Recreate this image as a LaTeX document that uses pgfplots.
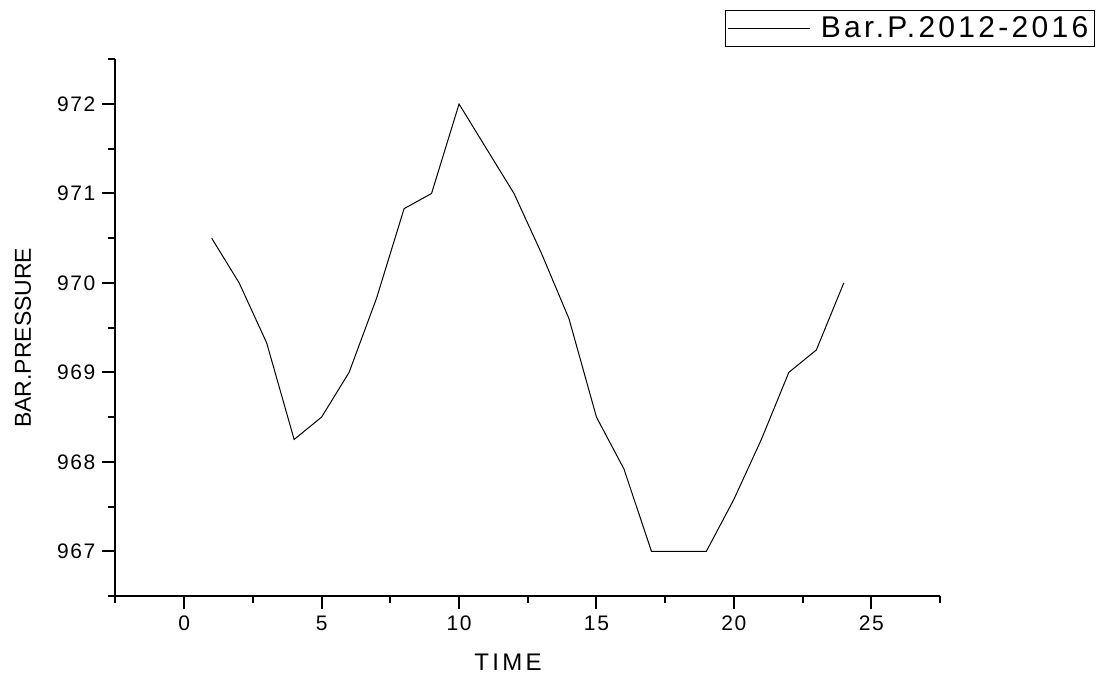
\documentclass[border=0pt]{standalone}
\usepackage{fontspec}
\setmainfont{Liberation Sans}
\newfontfamily\spaced[LetterSpace=14]{Liberation Sans}
\newfontfamily\legfont[LetterSpace=11]{Liberation Sans}
\newfontfamily\tickfont[LetterSpace=8]{Liberation Sans}
\usepackage{pgfplots}
\pgfplotsset{compat=1.18}
\begin{document}
\begin{tikzpicture}
\path (-57.75pt,-38.5pt) rectangle (491.75pt,298pt);
\begin{axis}[
  scale only axis, width=412.25pt, height=268.35pt,
  xmin=-2.5, xmax=27.5, ymin=966.5, ymax=972.5,
  axis lines=left,
  axis line style={line width=1pt,-},
  tick align=outside,
  major tick length=6.5pt, minor tick length=3.5pt,
  xtick={0,5,...,25}, minor xtick={-2.5,2.5,7.5,12.5,17.5,22.5,27.5},
  ytick={967,968,969,970,971,972}, minor ytick={966.5,967.5,968.5,969.5,970.5,971.5,972.5},
  tick style={line width=1pt, black},
  /pgf/number format/assume math mode=true,
  /pgf/number format/1000 sep={},
  tick label style={font=\fontsize{10.5}{12}\selectfont\tickfont},
  xlabel={TIME}, ylabel={BAR.PRESSURE},
  xlabel style={at={(axis description cs:0.476,-0.123)}, anchor=center, font=\fontsize{12}{14}\selectfont\spaced},
  ylabel style={at={(axis description cs:-0.1122,0.481)}, anchor=center, font=\fontsize{11.5}{14}\selectfont},
  legend style={at={(1.188,1.092)}, anchor=north east, draw=black, line width=0.6pt,
    font=\fontsize{15}{17}\selectfont\legfont, inner sep=1pt, legend cell align=left,
    /tikz/every even column/.append style={column sep=4pt}},
  legend image code/.code={\draw[#1, line width=0.5pt] (0pt,0pt) -- (41pt,0pt);},
]
\addplot[black, line width=0.5pt] coordinates {
(1,970.5) (2,970.0) (3,969.33) (4,968.25) (5,968.5) (6,969.0) (7,969.83) (8,970.83)
(9,971.0) (10,972.0) (11,971.5) (12,971.0) (13,970.33) (14,969.6) (15,968.5) (16,967.92)
(17,967.0) (18,967.0) (19,967.0) (20,967.58) (21,968.25) (22,969.0) (23,969.25) (24,970.0)
};
\addlegendentry{\hspace{3pt}Bar.P.2012-2016}
\end{axis}
\end{tikzpicture}
\end{document}
